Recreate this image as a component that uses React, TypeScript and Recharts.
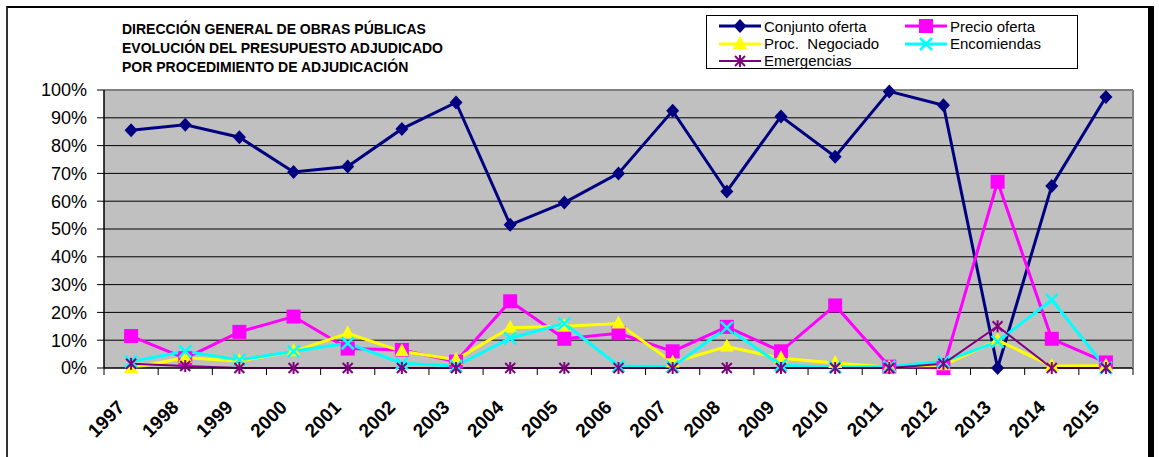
import React from "react";
import { LineChart, Line, XAxis, YAxis, CartesianGrid, ReferenceLine } from "recharts";

const years = ["1997", "1998", "1999", "2000", "2001", "2002", "2003", "2004", "2005", "2006", "2007", "2008", "2009", "2010", "2011", "2012", "2013", "2014", "2015"];
const conjuntoOferta = [85.5, 87.5, 83, 70.5, 72.5, 86, 95.5, 51.5, 59.5, 70, 92.5, 63.5, 90.5, 76, 99.5, 94.5, 0, 65.5, 97.5];
const precioOferta = [11.5, 3.5, 13, 18.5, 7, 6.5, 2.3, 24, 10.5, 12.5, 6, 14.8, 6, 22.5, 0.5, 0, 67, 10.5, 2];
const procNegociado = [0, 3.7, 2.5, 6, 12.5, 6, 3, 14.5, 15, 16, 2, 7.7, 3.5, 1.8, 0.3, 1, 10, 0.7, 0.8];
const encomiendas = [2.3, 6, 2.9, 6, 8.9, 1.7, 0.7, 10.7, 16, 0.7, 0.5, 14.5, 1, 0.3, 0.5, 2.3, 9.5, 24.5, 0];
const emergencias = [1.5, 0.7, 0, 0, 0, 0, 0, 0, 0, 0, 0, 0, 0, 0, 0, 1.5, 15, 0, 0];
const yTicks = [0, 10, 20, 30, 40, 50, 60, 70, 80, 90, 100];
const titleLines = ["DIRECCIÓN GENERAL DE OBRAS PÚBLICAS", "EVOLUCIÓN DEL PRESUPUESTO ADJUDICADO", "POR PROCEDIMIENTO DE ADJUDICACIÓN"];

const FONT = "Arial, 'Liberation Sans', sans-serif";
const W = 1159;
const H = 457;
const MARGIN = { top: 90, right: 25, bottom: 0, left: 44 };
const Y_AXIS_W = 60;
const EDGE_W = 1;
const BAND = (W - MARGIN.left - MARGIN.right - Y_AXIS_W - EDGE_W) / years.length;

type Shape = "diamond" | "square" | "triangle" | "cross" | "star";

const series: { key: string; name: string; values: number[]; color: string; width: number; shape: Shape }[] = [
  { key: "conjunto", name: "Conjunto oferta", values: conjuntoOferta, color: "#000080", width: 3, shape: "diamond" },
  { key: "precio", name: "Precio oferta", values: precioOferta, color: "#FF00FF", width: 3, shape: "square" },
  { key: "negociado", name: "Proc.  Negociado", values: procNegociado, color: "#FFFF00", width: 3, shape: "triangle" },
  { key: "encomiendas", name: "Encomiendas", values: encomiendas, color: "#00FFFF", width: 3, shape: "cross" },
  { key: "emergencias", name: "Emergencias", values: emergencias, color: "#800080", width: 2, shape: "star" },
];

const data = years.map((year, i) => {
  const row: Record<string, string | number> = { year };
  series.forEach((s) => (row[s.key] = s.values[i]));
  return row;
});

function marker(shape: Shape, cx: number, cy: number, color: string, key?: string | number) {
  switch (shape) {
    case "diamond":
      return <polygon key={key} points={`${cx},${cy - 7} ${cx + 6.5},${cy} ${cx},${cy + 7} ${cx - 6.5},${cy}`} fill={color} />;
    case "square":
      return <rect key={key} x={cx - 7} y={cy - 7} width={14} height={14} fill={color} />;
    case "triangle":
      return <polygon key={key} points={`${cx},${cy - 8} ${cx + 7},${cy + 5} ${cx - 7},${cy + 5}`} fill={color} />;
    case "cross":
      return (
        <g key={key} stroke={color} strokeWidth={2.5}>
          <line x1={cx - 6} y1={cy - 6} x2={cx + 6} y2={cy + 6} />
          <line x1={cx - 6} y1={cy + 6} x2={cx + 6} y2={cy - 6} />
        </g>
      );
    default:
      return (
        <g key={key} stroke={color} strokeWidth={2}>
          <line x1={cx - 5} y1={cy - 5} x2={cx + 5} y2={cy + 5} />
          <line x1={cx - 5} y1={cy + 5} x2={cx + 5} y2={cy - 5} />
          <line x1={cx} y1={cy - 6} x2={cx} y2={cy + 6} />
        </g>
      );
  }
}

// year label, plus the tick marks on the category boundaries (Excel style)
function YearTick(props: any) {
  const { x, y, payload, index } = props;
  const half = payload.offset || BAND / 2;
  const last = index === years.length - 1;
  return (
    <g>
      <line x1={x - half} y1={y} x2={x - half} y2={y + 7} stroke="#000" />
      {last && <line x1={x + half} y1={y} x2={x + half} y2={y + 7} stroke="#000" />}
      <g transform={`translate(${x - 10},${y + 36})`}>
        <text textAnchor="end" dominantBaseline="central" transform="rotate(-45)" fontSize={19} fontWeight="bold" fill="#000" fontFamily={FONT}>
          {payload.value}
        </text>
      </g>
    </g>
  );
}

function LegendBox() {
  const pos = [
    { left: 12, top: 10 },
    { left: 198, top: 10 },
    { left: 12, top: 27.5 },
    { left: 198, top: 27.5 },
    { left: 12, top: 44.5 },
  ];
  return (
    <div
      style={{
        position: "absolute",
        left: 706,
        top: 15,
        width: 370,
        height: 52,
        border: "1px solid #000",
        fontFamily: FONT,
        fontSize: 15,
      }}
    >
      {series.map((s, i) => (
        <div key={s.key} style={{ position: "absolute", left: pos[i].left, top: pos[i].top - 10, height: 20, display: "flex", alignItems: "center", whiteSpace: "pre" }}>
          <svg width={44} height={20} style={{ display: "block" }}>
            <line x1={0} y1={10} x2={42} y2={10} stroke={s.color} strokeWidth={s.width} />
            {marker(s.shape, 21, 10, s.color)}
          </svg>
          <span style={{ marginLeft: 1 }}>{s.name}</span>
        </div>
      ))}
    </div>
  );
}

export default function App() {
  return (
    <div style={{ position: "absolute", left: 0, top: 0, width: W, height: H, background: "#fff", overflow: "hidden" }}>
      <div
        style={{
          position: "absolute",
          left: 6,
          top: 6,
          width: 1140,
          height: 470,
          borderTop: "2px solid #000",
          borderLeft: "2px solid #333",
          borderRight: "6px solid #000",
        }}
      />
      <div style={{ position: "absolute", left: 122, top: 20, fontFamily: FONT, fontSize: 14, fontWeight: "bold", lineHeight: "19px" }}>
        {titleLines.map((t) => (
          <div key={t}>{t}</div>
        ))}
      </div>
      <LegendBox />
      <div style={{ position: "absolute", left: 0, top: 0 }}>
        <LineChart width={W} height={H} data={data} margin={MARGIN}>
          <CartesianGrid vertical={false} stroke="#000" fill="#C0C0C0" fillOpacity={1} />
          <XAxis
            dataKey="year"
            scale="band"
            height={89}
            tickLine={false}
            tickSize={0}
            tickMargin={0}
            axisLine={{ stroke: "#000" }}
            interval={0}
            tick={<YearTick />}
          />
          <YAxis
            domain={[0, 100]}
            ticks={yTicks}
            width={Y_AXIS_W}
            tickSize={7}
            tickMargin={10}
            tickFormatter={(v: number) => `${v}%`}
            tick={{ fontSize: 18, fill: "#000", fontFamily: FONT }}
            axisLine={{ stroke: "#000", strokeWidth: 1.5 }}
            tickLine={{ stroke: "#000" }}
          />
          <YAxis
            yAxisId="edge"
            orientation="right"
            domain={[0, 100]}
            width={EDGE_W}
            tick={false}
            tickLine={false}
            axisLine={{ stroke: "#808080", strokeWidth: 2 }}
          />
          <ReferenceLine y={100} stroke="#808080" strokeWidth={2} />
          {series.map((s) => (
            <Line
              key={s.key}
              dataKey={s.key}
              name={s.name}
              stroke={s.color}
              strokeWidth={s.width}
              isAnimationActive={false}
              dot={(p: any) => marker(s.shape, p.cx, p.cy, s.color, `${s.key}-${p.index}`)}
              activeDot={false}
            />
          ))}
        </LineChart>
      </div>
    </div>
  );
}
